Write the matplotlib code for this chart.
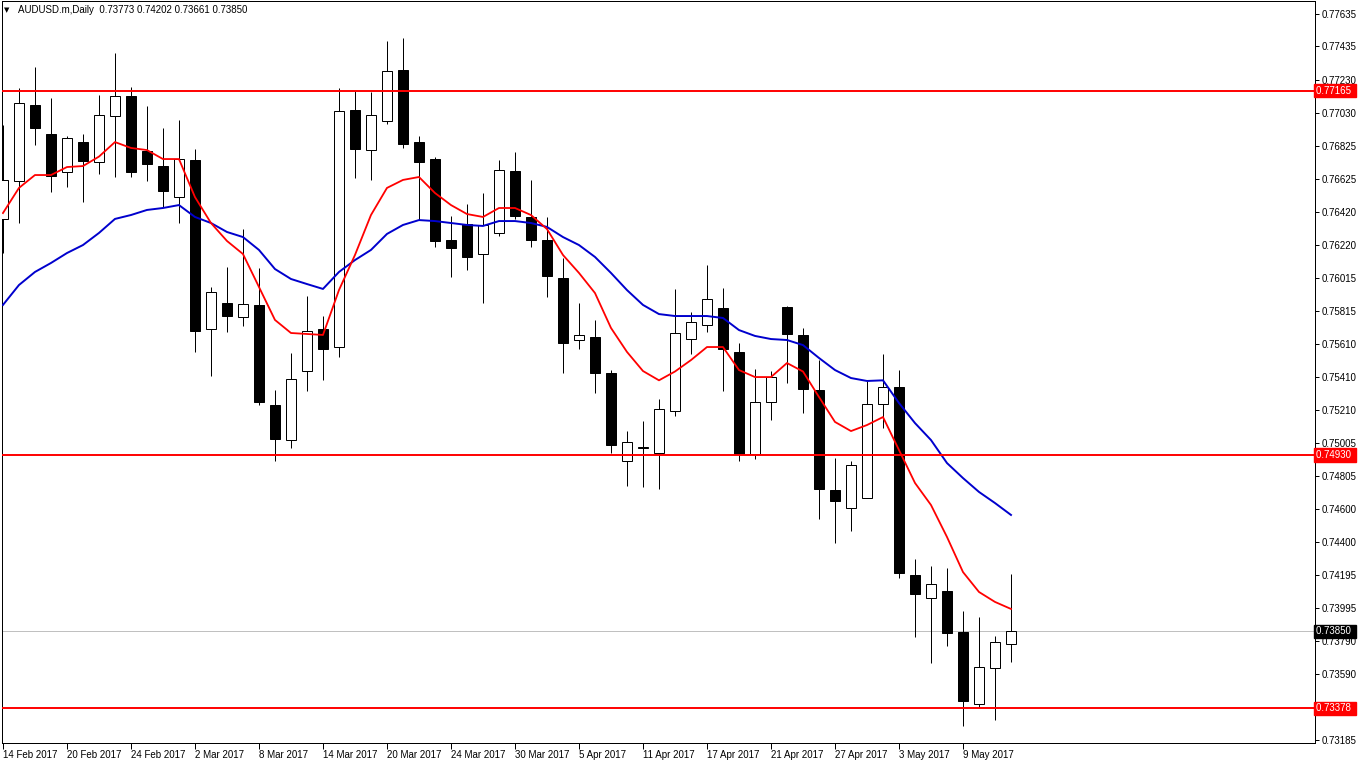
import numpy as np
import matplotlib
matplotlib.use("Agg")
import matplotlib.pyplot as plt
from matplotlib.patches import Rectangle

plt.rcParams['font.family'] = ['Liberation Sans', 'DejaVu Sans']

# daily bars AUDUSD.m, 14 Feb 2017 .. 12 May 2017
opens = [0.76378, 0.76610, 0.77076, 0.76898, 0.76666, 0.76849, 0.76727, 0.77009, 0.77131, 0.76794,
         0.76702, 0.76512, 0.76739, 0.75703, 0.75863, 0.75777, 0.75851, 0.75238, 0.75023, 0.75446,
         0.75703, 0.75593, 0.77046, 0.76800, 0.76978, 0.77291, 0.76849, 0.76745, 0.76249, 0.76347,
         0.76163, 0.76292, 0.76672, 0.76390, 0.76249, 0.76016, 0.75636, 0.75654, 0.75434, 0.74895,
         0.74974, 0.74946, 0.75201, 0.75642, 0.75728, 0.75830, 0.75563, 0.74937, 0.75256, 0.75836,
         0.75667, 0.75330, 0.74717, 0.74607, 0.74668, 0.75244, 0.75348, 0.74196, 0.74055, 0.74098,
         0.73847, 0.73405, 0.73626, 0.73773]
highs = [0.76954, 0.77180, 0.77309, 0.77119, 0.76886, 0.76898, 0.77137, 0.77395, 0.77186, 0.77070,
         0.76935, 0.76984, 0.76807, 0.75961, 0.76083, 0.76316, 0.76077, 0.75330, 0.75556, 0.75906,
         0.75783, 0.77180, 0.77162, 0.77156, 0.77468, 0.77487, 0.76886, 0.76760, 0.76396, 0.76469,
         0.76537, 0.76739, 0.76788, 0.76617, 0.76390, 0.76139, 0.75863, 0.75759, 0.75452, 0.75078,
         0.75140, 0.75275, 0.75949, 0.75808, 0.76096, 0.75955, 0.75618, 0.75458, 0.75446, 0.75844,
         0.75710, 0.75513, 0.74913, 0.74895, 0.75385, 0.75550, 0.75452, 0.74294, 0.74251, 0.74239,
         0.73975, 0.73939, 0.73822, 0.74202]
lows = [0.76169, 0.76353, 0.76831, 0.76543, 0.76574, 0.76482, 0.76653, 0.76635, 0.76635, 0.76610,
        0.76451, 0.76353, 0.75563, 0.75415, 0.75685, 0.75722, 0.75238, 0.74895, 0.74974, 0.75324,
        0.75391, 0.75532, 0.76629, 0.76617, 0.76960, 0.76813, 0.76371, 0.76206, 0.76022, 0.76065,
        0.75863, 0.76273, 0.76378, 0.76206, 0.75900, 0.75434, 0.75581, 0.75311, 0.74944, 0.74741,
        0.74735, 0.74723, 0.75170, 0.75550, 0.75685, 0.75324, 0.74895, 0.74907, 0.75146, 0.75373,
        0.75189, 0.74539, 0.74392, 0.74466, 0.74668, 0.75097, 0.74178, 0.73816, 0.73657, 0.73761,
        0.73271, 0.73387, 0.73307, 0.73661]
closes = [0.76617, 0.77088, 0.76935, 0.76641, 0.76874, 0.76733, 0.77015, 0.77131, 0.76666, 0.76715,
          0.76549, 0.76745, 0.75691, 0.75930, 0.75783, 0.75857, 0.75256, 0.75029, 0.75397, 0.75691,
          0.75581, 0.77039, 0.76807, 0.77015, 0.77284, 0.76837, 0.76727, 0.76243, 0.76200, 0.76145,
          0.76341, 0.76678, 0.76396, 0.76249, 0.76028, 0.75618, 0.75667, 0.75434, 0.74993, 0.75011,
          0.74980, 0.75213, 0.75679, 0.75746, 0.75887, 0.75581, 0.74940, 0.75256, 0.75409, 0.75673,
          0.75336, 0.74723, 0.74649, 0.74870, 0.75244, 0.75348, 0.74208, 0.74080, 0.74141, 0.73841,
          0.73424, 0.73632, 0.73785, 0.73850]

# moving averages (red = fast, blue = slow)
ma_fast = [0.76414, 0.76568, 0.76647, 0.76647, 0.76696, 0.76702, 0.76760, 0.76849, 0.76813, 0.76800,
           0.76745, 0.76745, 0.76512, 0.76353, 0.76243, 0.76163, 0.75961, 0.75759, 0.75679, 0.75673,
           0.75667, 0.75942, 0.76157, 0.76402, 0.76568, 0.76617, 0.76635, 0.76537, 0.76463, 0.76408,
           0.76390, 0.76445, 0.76445, 0.76402, 0.76316, 0.76157, 0.76047, 0.75924, 0.75710, 0.75563,
           0.75446, 0.75389, 0.75443, 0.75513, 0.75593, 0.75593, 0.75452, 0.75409, 0.75409, 0.75495,
           0.75443, 0.75287, 0.75134, 0.75078, 0.75115, 0.75164, 0.74962, 0.74760, 0.74625, 0.74429,
           0.74214, 0.74092, 0.74031, 0.73988]
ma_slow = [0.75851, 0.75973, 0.76053, 0.76108, 0.76169, 0.76218, 0.76292, 0.76378, 0.76402, 0.76433,
           0.76445, 0.76463, 0.76390, 0.76353, 0.76298, 0.76267, 0.76188, 0.76071, 0.76010, 0.75979,
           0.75949, 0.76053, 0.76126, 0.76188, 0.76286, 0.76341, 0.76371, 0.76365, 0.76353, 0.76341,
           0.76335, 0.76365, 0.76365, 0.76353, 0.76329, 0.76267, 0.76218, 0.76145, 0.76047, 0.75942,
           0.75851, 0.75795, 0.75783, 0.75783, 0.75783, 0.75771, 0.75697, 0.75661, 0.75642, 0.75636,
           0.75605, 0.75526, 0.75452, 0.75403, 0.75385, 0.75389, 0.75250, 0.75127, 0.75023, 0.74882,
           0.74790, 0.74705, 0.74637, 0.74564]

levels = [0.77165, 0.74930, 0.73378]
bid = 0.73850

price_ticks = [0.77635, 0.77435, 0.77230, 0.77030, 0.76825, 0.76625, 0.76420, 0.76220, 0.76015,
               0.75815, 0.75610, 0.75410, 0.75210, 0.75005, 0.74805, 0.74600, 0.74400, 0.74195,
               0.73995, 0.73790, 0.73590, 0.73185]
date_labels = ["14 Feb 2017", "20 Feb 2017", "24 Feb 2017", "2 Mar 2017", "8 Mar 2017",
               "14 Mar 2017", "20 Mar 2017", "24 Mar 2017", "30 Mar 2017", "5 Apr 2017",
               "11 Apr 2017", "17 Apr 2017", "21 Apr 2017", "27 Apr 2017", "3 May 2017",
               "9 May 2017"]

W, H = 1358, 764
fig = plt.figure(figsize=(W / 100, H / 100), dpi=100)
ax = fig.add_axes([2 / W, 21 / H, 1313 / W, 742 / H])

px = 0.72  # one pixel in points
bw = 0.58

for i in range(len(opens)):
    o, h, l, c = opens[i], highs[i], lows[i], closes[i]
    ax.vlines(i, l, h, color='black', lw=px, zorder=2)
    lo, hi = min(o, c), max(o, c)
    if abs(c - o) < 0.00003:
        ax.hlines(o, i - bw / 2, i + bw / 2, color='black', lw=px, zorder=3)
    else:
        fc = 'white' if c > o else 'black'
        ax.add_patch(Rectangle((i - bw / 2, lo), bw, hi - lo, facecolor=fc,
                               edgecolor='black', lw=px, zorder=3))

x = np.arange(len(ma_fast))
ax.plot(x, ma_slow, color='#0000cd', lw=1.4, zorder=4)
ax.plot(x, ma_fast, color='#ff0000', lw=1.3, zorder=4)

for lv in levels:
    ax.axhline(lv, color='#ff0000', lw=1.4, zorder=5)
ax.axhline(bid, color='#c0c0c0', lw=px, zorder=1)

ax.set_xlim(-0.06, 82)
ax.set_ylim(0.731665, 0.777135)

ax.yaxis.tick_right()
ax.set_yticks(price_ticks)
ax.set_yticklabels([f"{t:.5f}" for t in price_ticks])
ax.tick_params(axis='y', direction='out', length=3, width=px, pad=2, labelsize=7)
ax.set_xticks(np.arange(0, len(date_labels) * 4, 4))
ax.set_xticklabels(date_labels)
ax.tick_params(axis='x', direction='out', length=4, width=px, pad=1, labelsize=7)
for lab in ax.get_xticklabels():
    lab.set_ha('left')
for s in ax.spines.values():
    s.set_linewidth(px)
    s.set_color('black')

ytr = ax.get_yaxis_transform()
for lv in levels:
    ax.text(1.001, lv, f"{lv:.5f} ", transform=ytr, color='white', fontsize=7,
            va='center', ha='left', clip_on=False, zorder=10,
            bbox=dict(boxstyle='square,pad=0.2', facecolor='#ff0000', edgecolor='#ff0000'))
ax.text(1.001, bid, f"{bid:.5f} ", transform=ytr, color='white', fontsize=7,
        va='center', ha='left', clip_on=False, zorder=10,
        bbox=dict(boxstyle='square,pad=0.2', facecolor='black', edgecolor='black'))

fig.text(4 / W, 1 - 10 / H, "\u25bc", fontsize=5, va='center', ha='left',
         family=['DejaVu Sans'])
fig.text(18 / W, 1 - 10 / H, f"AUDUSD.m,Daily  {opens[-1]:.5f} {highs[-1]:.5f} "
         f"{lows[-1]:.5f} {closes[-1]:.5f}", fontsize=7, va='center', ha='left')

fig.savefig("out.png", dpi=100, facecolor='white')
